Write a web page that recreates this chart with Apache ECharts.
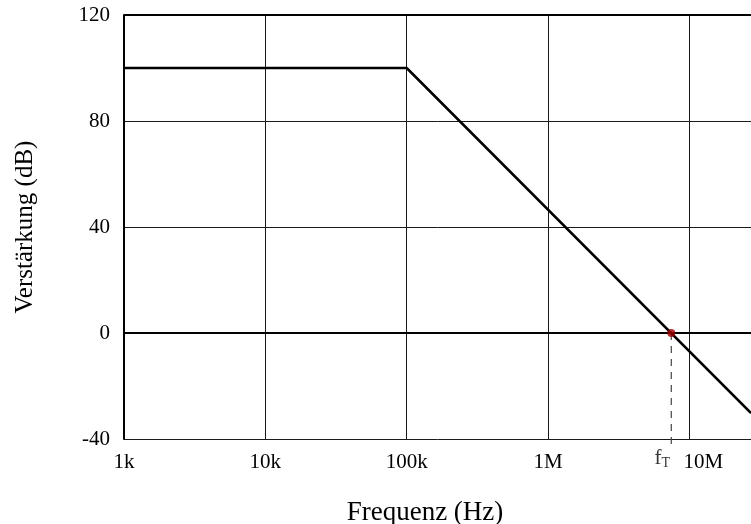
<!DOCTYPE html>
<html>
<head>
<meta charset="utf-8">
<script src="https://cdn.jsdelivr.net/npm/echarts@6/dist/echarts.min.js"></script>
<style>
  html, body { margin: 0; padding: 0; background: #fff; }
  #chart { width: 751px; height: 524px; }
</style>
</head>
<body>
<div id="chart"></div>
<script>
// Open-loop gain of an amplifier (Bode magnitude, asymptotic)
const freqs = [1e3, 1e5, 2.73e7];          // Hz
const gainDb = [100, 100, -30.2];          // dB
const transitFreq = 7.45e6;                // f_T, gain = 0 dB
const transitGain = 0;
const markerEndDb = -43;                   // f_T drop line ends just below the axis
const xTicks = { 1e3: '1k', 1e4: '10k', 1e5: '100k', 1e6: '1M', 1e7: '10M' };
const yTicks = [-40, 0, 40, 80, 120];

const serif = '"Liberation Serif", "DejaVu Serif", serif';

const chart = echarts.init(document.getElementById('chart'), null, { renderer: 'canvas' });

chart.setOption({
  animation: false,
  backgroundColor: '#ffffff',
  grid: { left: 124, right: 0, top: 15, bottom: 85, containLabel: false, outerBoundsMode: 'none' },
  xAxis: {
    type: 'log',
    logBase: 10,
    min: freqs[0],
    max: freqs[freqs.length - 1],
    name: 'Frequenz (Hz)',
    nameLocation: 'middle',
    nameGap: 60,
    nameTextStyle: { fontFamily: serif, fontSize: 27, color: '#000', padding: [0, 25, 0, 0] },
    axisLine: { show: true, lineStyle: { color: '#000', width: 2 } },
    axisTick: { show: false },
    splitLine: { show: true, lineStyle: { color: '#1a1a1a', width: 1 } },
    axisLabel: {
      margin: 13,
      fontFamily: serif,
      fontSize: 21,
      color: '#000',
      showMaxLabel: false,
      formatter: function (v) {
        const key = Math.round(v);
        if (key === 1e7) return '{shift|' + xTicks[key] + '}';
        return xTicks[key] || '';
      },
      rich: {
        shift: { fontFamily: serif, fontSize: 21, color: '#000', padding: [0, 0, 0, 28] }
      }
    }
  },
  yAxis: {
    type: 'value',
    min: yTicks[0],
    max: yTicks[yTicks.length - 1],
    interval: 40,
    name: 'Verstärkung (dB)',
    nameLocation: 'middle',
    nameGap: 86,
    nameRotate: 90,
    nameTextStyle: { fontFamily: serif, fontSize: 25, color: '#000' },
    axisLine: { show: true, lineStyle: { color: '#000', width: 2 } },
    axisTick: { show: false },
    splitLine: { show: true, lineStyle: { color: '#1a1a1a', width: 1 } },
    axisLabel: { margin: 14, fontFamily: serif, fontSize: 21, color: '#000' }
  },
  series: [
    {
      type: 'line',
      data: freqs.map((f, i) => [f, gainDb[i]]),
      showSymbol: false,
      lineStyle: { color: '#000', width: 2.5 },
      z: 5,
      markLine: {
        silent: true,
        symbol: 'none',
        label: { show: false },
        lineStyle: { color: '#000', width: 2, type: 'solid' },
        data: [{ yAxis: 0 }, { yAxis: yTicks[yTicks.length - 1] }]
      }
    },
    {
      // dashed drop line from f_T to the frequency axis
      type: 'line',
      data: [[transitFreq, transitGain], [transitFreq, markerEndDb]],
      clip: false,
      showSymbol: false,
      lineStyle: { color: '#444', width: 1.2, type: [7, 6] },
      z: 4
    },
    {
      // f_T tick label under the drop line
      type: 'scatter',
      data: [[transitFreq, markerEndDb]],
      clip: false,
      symbolSize: 0,
      silent: true,
      label: {
        show: true,
        position: 'bottom',
        distance: 1,
        offset: [-9, 0],
        formatter: '{f|f}{t|T}',
        rich: {
          f: { fontFamily: serif, fontSize: 21, color: '#000' },
          t: { fontFamily: serif, fontSize: 14, color: '#000', padding: [8, 0, 0, 0] }
        }
      }
    },
    {
      type: 'scatter',
      data: [[transitFreq, transitGain]],
      symbolSize: 8,
      itemStyle: { color: '#a00000' },
      z: 6
    }
  ]
});
</script>
</body>
</html>
